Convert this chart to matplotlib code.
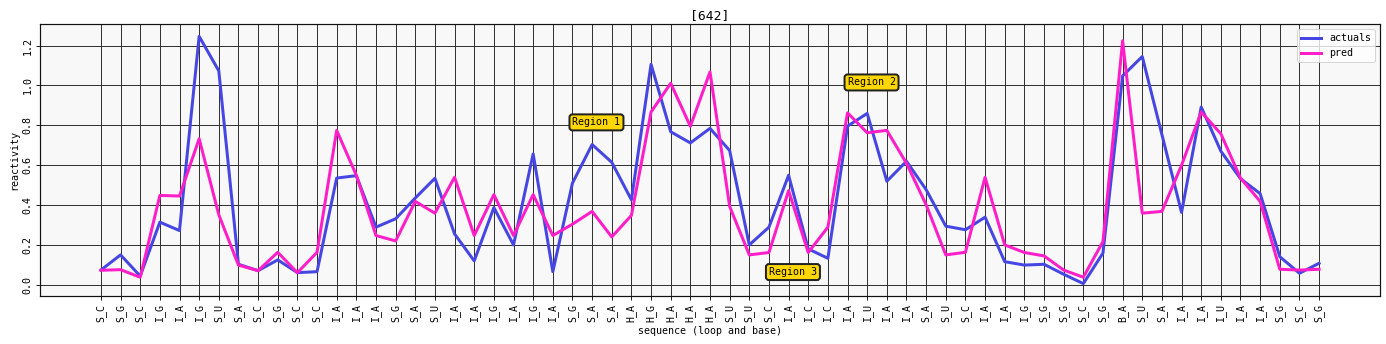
import matplotlib
matplotlib.use("Agg")
import matplotlib.pyplot as plt

# sequence positions labelled as <loop type>_<base>
labels = [
    "S_C", "S_G", "S_C", "I_G", "I_A", "I_G", "S_U", "S_A", "S_C", "S_G",
    "S_C", "S_C", "I_A", "I_A", "I_A", "S_G", "S_A", "S_U", "I_A", "I_A",
    "I_G", "I_A", "I_G", "I_A", "S_G", "S_A", "S_A", "H_A", "H_G", "H_A",
    "H_A", "H_A", "S_U", "S_U", "S_C", "I_A", "I_C", "I_C", "I_A", "I_U",
    "I_A", "I_A", "S_A", "S_U", "S_C", "I_A", "I_A", "I_G", "S_G", "S_G",
    "S_C", "S_G", "B_A", "S_U", "S_A", "I_A", "I_A", "I_U", "I_A", "I_A",
    "S_G", "S_C", "S_G",
]

actuals = [
    0.075, 0.151, 0.045, 0.315, 0.273, 1.246, 1.073, 0.104, 0.072, 0.126,
    0.062, 0.067, 0.536, 0.548, 0.290, 0.332, 0.436, 0.535, 0.256, 0.121,
    0.388, 0.201, 0.657, 0.067, 0.511, 0.704, 0.615, 0.427, 1.106, 0.768,
    0.712, 0.785, 0.674, 0.201, 0.290, 0.550, 0.181, 0.134, 0.796, 0.860,
    0.520, 0.620, 0.478, 0.295, 0.277, 0.340, 0.117, 0.100, 0.104, 0.054,
    0.007, 0.160, 1.048, 1.145, 0.754, 0.364, 0.892, 0.671, 0.533, 0.458,
    0.142, 0.059, 0.109,
]

pred = [
    0.074, 0.077, 0.039, 0.449, 0.446, 0.733, 0.352, 0.100, 0.072, 0.164,
    0.062, 0.164, 0.775, 0.550, 0.248, 0.221, 0.419, 0.360, 0.540, 0.248,
    0.453, 0.248, 0.453, 0.248, 0.305, 0.369, 0.241, 0.349, 0.867, 1.011,
    0.795, 1.068, 0.394, 0.151, 0.163, 0.473, 0.163, 0.290, 0.863, 0.763,
    0.775, 0.610, 0.402, 0.151, 0.164, 0.540, 0.201, 0.163, 0.146, 0.075,
    0.039, 0.218, 1.224, 0.360, 0.369, 0.600, 0.867, 0.758, 0.536, 0.419,
    0.079, 0.075, 0.079,
]

regions = [("Region 1", 24, 0.80), ("Region 2", 38, 1.00), ("Region 3", 34, 0.05)]

plt.rcParams["font.family"] = ["DejaVu Sans Mono", "DejaVu Sans"]

fig = plt.figure(figsize=(1386 / 72, 344 / 72), dpi=72)
ax = fig.add_axes([40 / 1386, 1 - 296 / 344, 1340 / 1386, 272 / 344])
ax.set_facecolor("#f8f8f8")

x = list(range(len(labels)))
ax.plot(x, actuals, color="#4646e2", lw=3, label="actuals", zorder=3)
ax.plot(x, pred, color="#ff1ec8", lw=3, label="pred", zorder=3)

ax.set_xticks(x)
ax.set_xticklabels(labels, rotation=90, fontsize=10)
ax.set_yticks([0.0, 0.2, 0.4, 0.6, 0.8, 1.0, 1.2])
ax.set_yticklabels(["0.0", "0.2", "0.4", "0.6", "0.8", "1.0", "1.2"],
                   rotation=90, va="center", fontsize=10)
ax.tick_params(direction="out", length=4, width=1, color="#222222")
ax.grid(True, color="#333333", lw=1, zorder=1)
ax.set_axisbelow(True)
for s in ax.spines.values():
    s.set_color("#111111")
    s.set_linewidth(1.2)

ax.set_xlabel("sequence (loop and base)", fontsize=10, labelpad=4)
ax.set_ylabel("reactivity", fontsize=10, labelpad=3)
ax.set_title("[642]", fontsize=13, pad=5)

for txt, rx, ry in regions:
    ax.text(rx, ry, txt, fontsize=10, zorder=5,
            bbox=dict(boxstyle="round,pad=0.3", fc="#ffd700", ec="#222222", lw=2))

ax.legend(loc="upper right", fontsize=10, framealpha=0.8)

fig.savefig("out.png", dpi=72)
